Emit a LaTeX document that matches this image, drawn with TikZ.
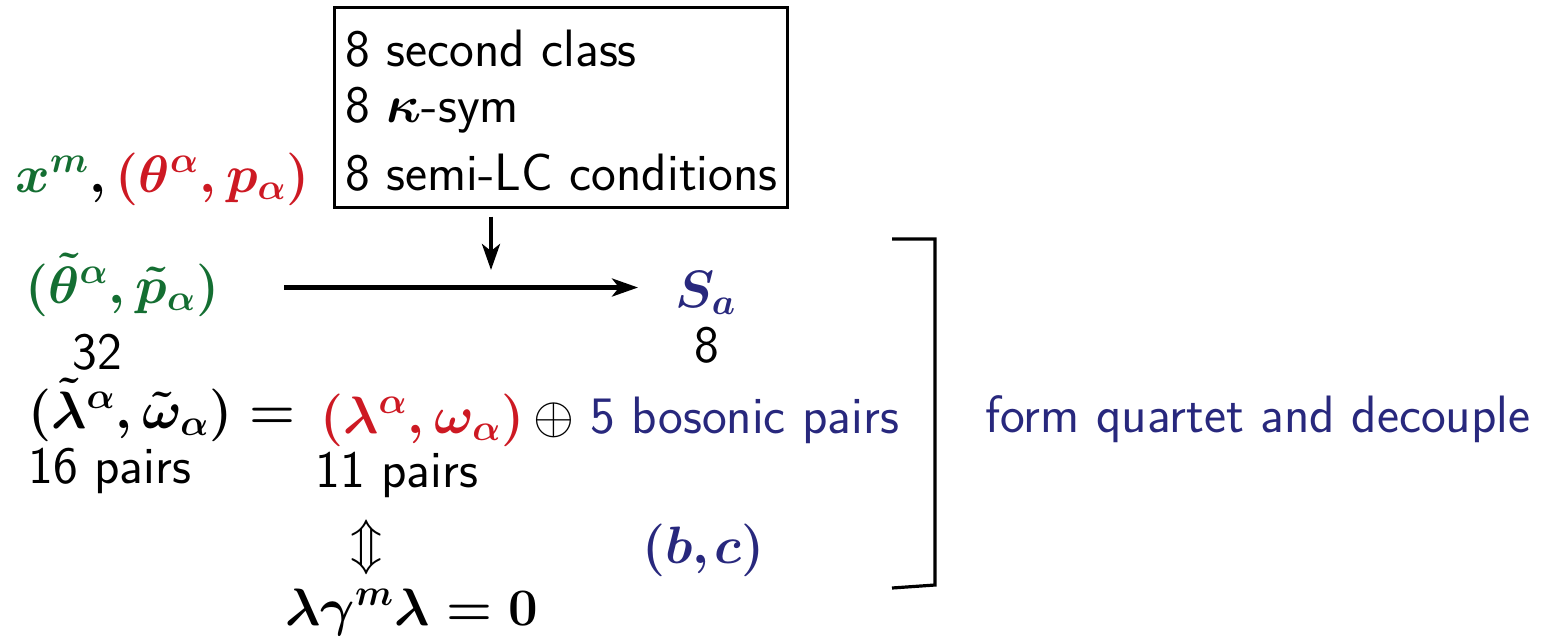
\documentclass[tikz,border=0pt]{standalone}
\usepackage{fix-cm}
\usepackage{amsmath}
\usetikzlibrary{arrows.meta}
\definecolor{cg}{RGB}{20,110,50}
\definecolor{cr}{RGB}{205,25,35}
\definecolor{cn}{RGB}{40,40,125}
\tikzset{
  txt/.style={anchor=base west,inner sep=0pt,font=\fontsize{26.3}{32}\selectfont\sffamily\boldmath},
  ctxt/.style={anchor=base,inner sep=0pt,font=\fontsize{26.3}{32}\selectfont\sffamily\boldmath},
  utxt/.style={inner sep=0pt,font=\fontsize{26.3}{32}\selectfont\unboldmath},
  arr/.style={line width=2.1pt,-{Stealth[length=13pt,width=9pt,inset=3.5pt]}},
  frame/.style={draw,line width=1.5pt,rectangle,inner sep=0pt}
}
\begin{document}
\begin{tikzpicture}[x=0.5pt,y=-0.5pt]
\useasboundingbox (0,0) rectangle (1546,639);
% constraint box
\node[frame,minimum width=226.5pt,minimum height=100pt] (box) at (560.5,107) {};
\node[txt] (l1) at (345,66) {8 second class};
\node[txt] (l2) at (345,122) {8 $\kappa$-sym};
\node[txt] (l3) at (345,190) {8 semi-LC conditions};
\coordinate (dn) at (491,270);
\draw[arr,shorten <=4pt] (box.south -| dn) -- (dn);
% left column
\node[txt] (xm) at (15,192) {${\color{cg}x^m},{\color{cr}(\theta^\alpha,p_\alpha)}$};
\node[txt,text=cg] (tt) at (25,303) {$(\tilde\theta^\alpha,\tilde p_\alpha)$};
\node[txt] (n32) at (72,369) {32};
\node[txt] (lt) at (28,428) {$(\tilde\lambda^\alpha,\tilde\omega_\alpha) =$};
\node[txt] (p16) at (28,483) {16 pairs};
\node[txt,text=cr] (lw) at (320,433) {$(\lambda^\alpha,\omega_\alpha)$};
\node[utxt,anchor=base west] (op) at (533,433) {$\oplus$};
\node[txt,text=cn] (bos) at (590,433) {5 bosonic pairs};
\node[txt] (p11) at (315,487) {11 pairs};
\node[utxt,anchor=base] (ud) at (367,560) {$\Updownarrow$};
\node[txt] (pure) at (285,625) {$\lambda\gamma^m\lambda = 0$};
% right column
\node[txt,text=cn] (sa) at (675,307) {$S_a$};
\node[ctxt] (n8) at (707,362) {8};
\node[txt,text=cn] (bc) at (642,563) {$(b,\mkern-1.5mu c)$};
\node[txt,text=cn] (fq) at (985,432) {form quartet and decouple};
% main arrow
\coordinate (ha) at (284,287.5);
\coordinate (hb) at (638,287.5);
\draw[arr] (ha) -- (hb);
% bracket
\draw[line width=1.6pt] (892,239) -- (935,239) -- (935,585) -- (892,588);
\end{tikzpicture}
\end{document}
